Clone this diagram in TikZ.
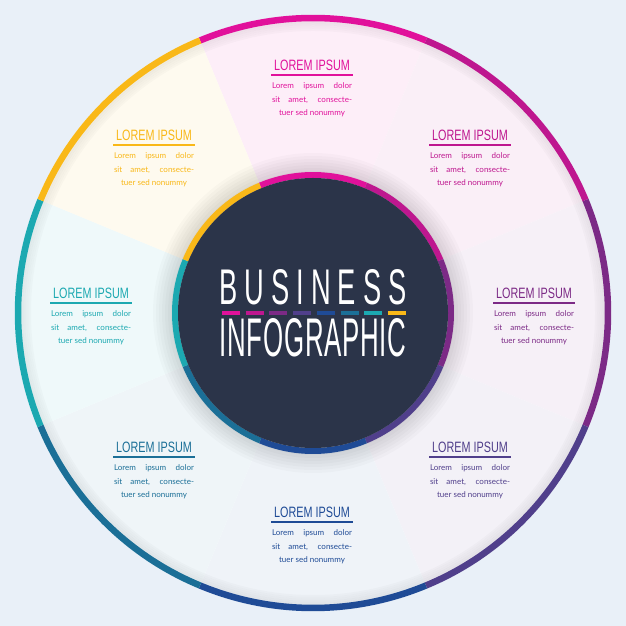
\documentclass[tikz,border=0pt]{standalone}
\usepackage{fontspec}
\usepackage{graphicx}
\setmainfont{Lato}
\newfontfamily\headfont[FakeStretch=0.72]{Liberation Sans}
\newfontfamily\bigfont[FakeStretch=0.7,LetterSpace=18]{Liberation Sans}
\newfontfamily\bigfontb[FakeStretch=0.7,LetterSpace=2]{Liberation Sans}
\usetikzlibrary{positioning}
\definecolor{bgblue}{HTML}{E9F0F8}
\definecolor{navy}{HTML}{2B3449}
\definecolor{segA}{HTML}{E1119B}
\definecolor{segB}{HTML}{BE178F}
\definecolor{segC}{HTML}{7C2A86}
\definecolor{segD}{HTML}{503F8B}
\definecolor{segE}{HTML}{1F4B96}
\definecolor{segF}{HTML}{1B6F97}
\definecolor{segG}{HTML}{1CA9B1}
\definecolor{segH}{HTML}{F9B818}
\newcommand{\fullline}[1]{\makebox[80pt][s]{#1}}
\tikzset{
    % Text styles
    head text/.style={font=\headfont\fontsize{15}{15}\selectfont, inner sep=0pt},
    body text/.style={font=\fontsize{8}{13.5}\selectfont, align=center, inner sep=0pt},
    dash bar/.style={line width=3.5pt}
}
\begin{document}
\begin{tikzpicture}[x=1pt,y=1pt]
        \useasboundingbox[fill=bgblue] (0,0) rectangle (626,626);
        \coordinate (center) at (313,313);

        % Outer disc and sector tints
        \fill[white] (center) circle[radius=298];
        \foreach \ang/\col in {90/segA,45/segB,0/segC,-45/segD,-90/segE,-135/segF,180/segG,135/segH} {
            \fill[\col!7] (center) -- ++(\ang-22.5:292) arc[start angle=\ang-22.5, end angle=\ang+22.5, radius=292] -- cycle;
        }

        % Soft shadow on the inside of the outer ring
        \foreach \r/\o in {291/0.06,289/0.05,287/0.04,285/0.03,283/0.02} {
            \draw[black, opacity=\o, line width=2pt] (center) circle[radius=\r];
        }
        % Soft shadow round the inner disc
        \foreach \r in {160,157,...,142} {
            \fill[black, opacity=0.018] (center) circle[radius=\r];
        }

        % Coloured rims
        \foreach \ang/\col in {90/segA,45/segB,0/segC,-45/segD,-90/segE,-135/segF,180/segG,135/segH} {
            \draw[\col, line width=6.5pt] (center) ++(\ang-22.5:295) arc[start angle=\ang-22.5, end angle=\ang+22.5, radius=295];
            \draw[\col, line width=6pt] (center) ++(\ang-22.5:138) arc[start angle=\ang-22.5, end angle=\ang+22.5, radius=138];
        }
        \fill[navy] (center) circle[radius=135];

        % Central title
        \node[white, inner sep=0pt] (title1) at (313,339) {\resizebox{187pt}{35pt}{\bigfont BUSINESS}};
        \node[white, inner sep=0pt] (title2) at (313,288) {\resizebox{187pt}{38pt}{\bigfontb INFOGRAPHIC}};
        \foreach \i/\col in {0/segA,1/segB,2/segC,3/segD,4/segE,5/segF,6/segG,7/segH} {
            \draw[dash bar, \col] (222+\i*23.7,313) -- ++(18,0);
        }

        % Text blocks
        \foreach \x/\y/\col [count=\n] in {312/561/segA,470/491/segB,534/333/segC,470/179/segD,312/114/segE,154/179/segF,91/333/segG,154/491/segH} {
            \node[head text, \col] (head\n) at (\x,\y) {LOREM IPSUM};
            \draw[\col, line width=1.2pt] (\x-41,\y-10) -- (\x+41,\y-10);
            \node[body text, \col, below=12pt of head\n] (body\n) {\fullline{Lorem ipsum dolor}\\\fullline{sit amet, consecte-}\\tuer sed nonummy};
        }
    \end{tikzpicture}
\end{document}
